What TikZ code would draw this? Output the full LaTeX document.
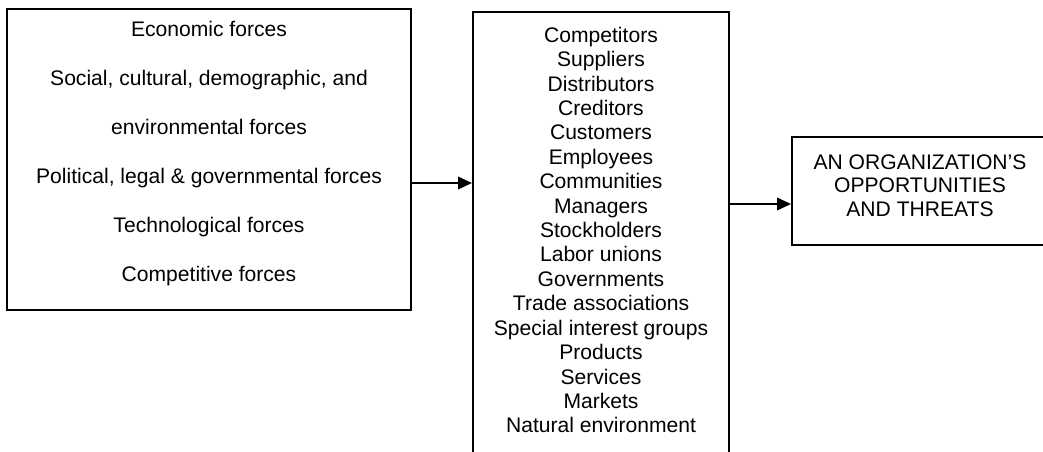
\documentclass[tikz,border=0pt]{standalone}
\usepackage{fontspec}
\setmainfont{Liberation Sans}
\usepackage{tikz}
\usetikzlibrary{positioning,calc,arrows.meta}

\begin{document}
\begin{tikzpicture}[x=0.02cm,y=-0.02cm,
  box/.style={draw,line width=1.1pt,inner sep=0pt},
  txt/.style={align=center,font=\fontsize{12pt}{13.9pt}\selectfont},
  arr/.style={line width=1.1pt,-{Triangle[length=0.28cm,width=0.25cm]}}]
  \clip (0,0) rectangle (1043,452);
  % caixas
  \node[box,minimum width=8.08cm,minimum height=6.02cm] (forces) at (209,159.5) {};
  \node[box,minimum width=5.12cm,minimum height=9.16cm] (stake) at (601,241) {};
  \node[box,minimum width=5.12cm,minimum height=2.16cm] (orgs) at (920,191) {};
  % textos
  \node[txt,font=\fontsize{12pt}{27.9pt}\selectfont] (forcestxt) at (209,154)
    {Economic forces\\Social, cultural, demographic, and\\environmental forces\\
     Political, legal \& governmental forces\\Technological forces\\Competitive forces};
  \node[txt] (staketxt) at (601,230)
    {Competitors\\Suppliers\\Distributors\\Creditors\\Customers\\Employees\\
     Communities\\Managers\\Stockholders\\Labor unions\\Governments\\
     Trade associations\\Special interest groups\\Products\\Services\\Markets\\
     Natural environment};
  \node[txt,font=\fontsize{12pt}{13.5pt}\selectfont] (orgstxt) at (920,185.5)
    {AN ORGANIZATION’S\\OPPORTUNITIES\\AND THREATS};
  % setas
  \coordinate (fa) at ($(forces.east)+(0,23.5)$);
  \coordinate (ob) at ($(orgs.west)+(0,13)$);
  \draw[arr] (fa) -- (fa -| stake.west);
  \draw[arr] (stake.east |- ob) -- (ob);
\end{tikzpicture}
\end{document}
